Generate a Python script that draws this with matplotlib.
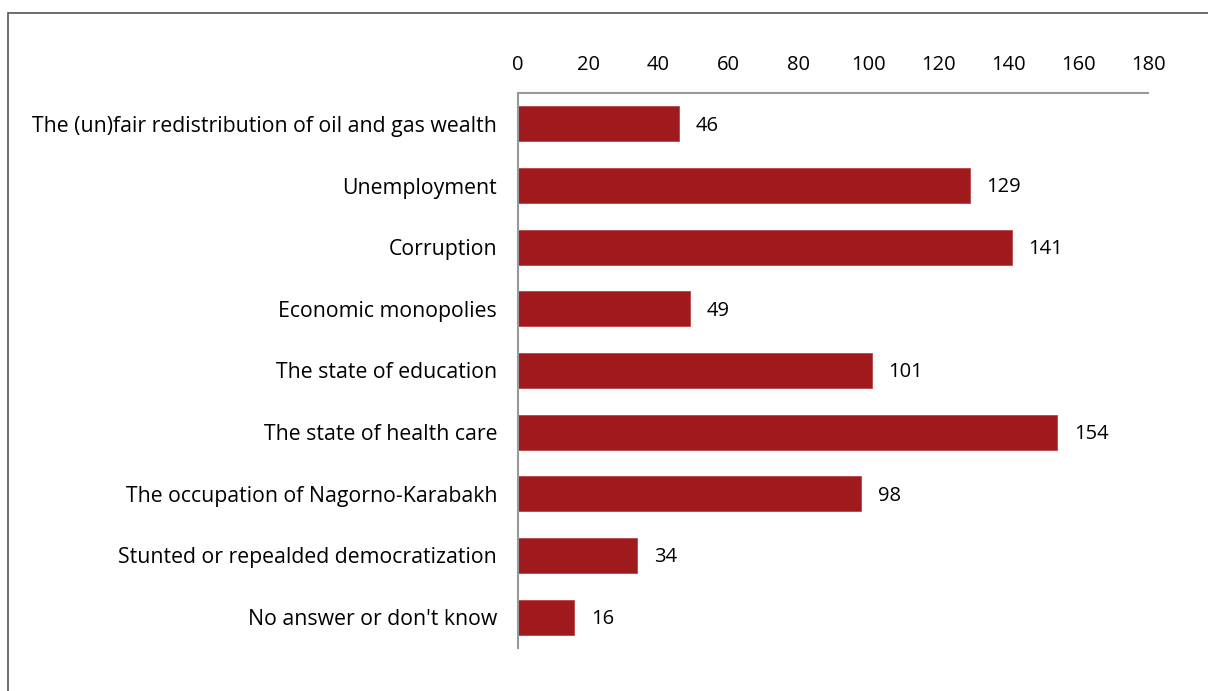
import matplotlib.pyplot as plt
from matplotlib.patches import Rectangle

# issues
categories = [
    "The (un)fair redistribution of oil and gas wealth",
    "Unemployment",
    "Corruption",
    "Economic monopolies",
    "The state of education",
    "The state of health care",
    "The occupation of Nagorno-Karabakh",
    "Stunted or repealded democratization",
    "No answer or don't know",
]
counts = [46, 129, 141, 49, 101, 154, 98, 34, 16]
x_ticks = [0, 20, 40, 60, 80, 100, 120, 140, 160, 180]

plt.rcParams['font.family'] = ['Open Sans', 'DejaVu Sans']

fig = plt.figure(figsize=(12.08, 6.91), dpi=100)
W, H = 1208, 691
# axes placed in pixel terms: x 518..1148, y 93..648
ax = fig.add_axes([518 / W, 1 - 648 / H, 630 / W, 555 / H])

bar_color = '#A0191D'
ypos = list(range(len(categories)))
ax.barh(ypos, counts, height=0.57, color=bar_color, edgecolor='#B84448', linewidth=0.6)

for y, v in zip(ypos, counts):
    ax.text(v + 4.8, y + 0.03, str(v), va='center', ha='left', fontsize=14.5, color='black')

ax.set_xlim(0, 180)
ax.set_ylim(len(categories) - 0.5, -0.5)
ax.set_xticks(x_ticks)
ax.xaxis.tick_top()
ax.set_yticks(ypos)
ax.set_yticklabels(categories, fontsize=15.3)
ax.tick_params(axis='both', length=0, colors='black')
ax.tick_params(axis='x', pad=13, labelsize=14.5)
ax.tick_params(axis='y', pad=15)

for side in ['right', 'bottom']:
    ax.spines[side].set_visible(False)
for side in ['top', 'left']:
    ax.spines[side].set_color('#999999')
    ax.spines[side].set_linewidth(1.5)

# outer frame of the cropped figure
fig.patches.append(Rectangle((8 / W, -0.1), 1.2, (1 - 13 / H) + 0.1,
                             transform=fig.transFigure, fill=False,
                             edgecolor='#555555', linewidth=1.2))

fig.savefig('out.png', dpi=100)
